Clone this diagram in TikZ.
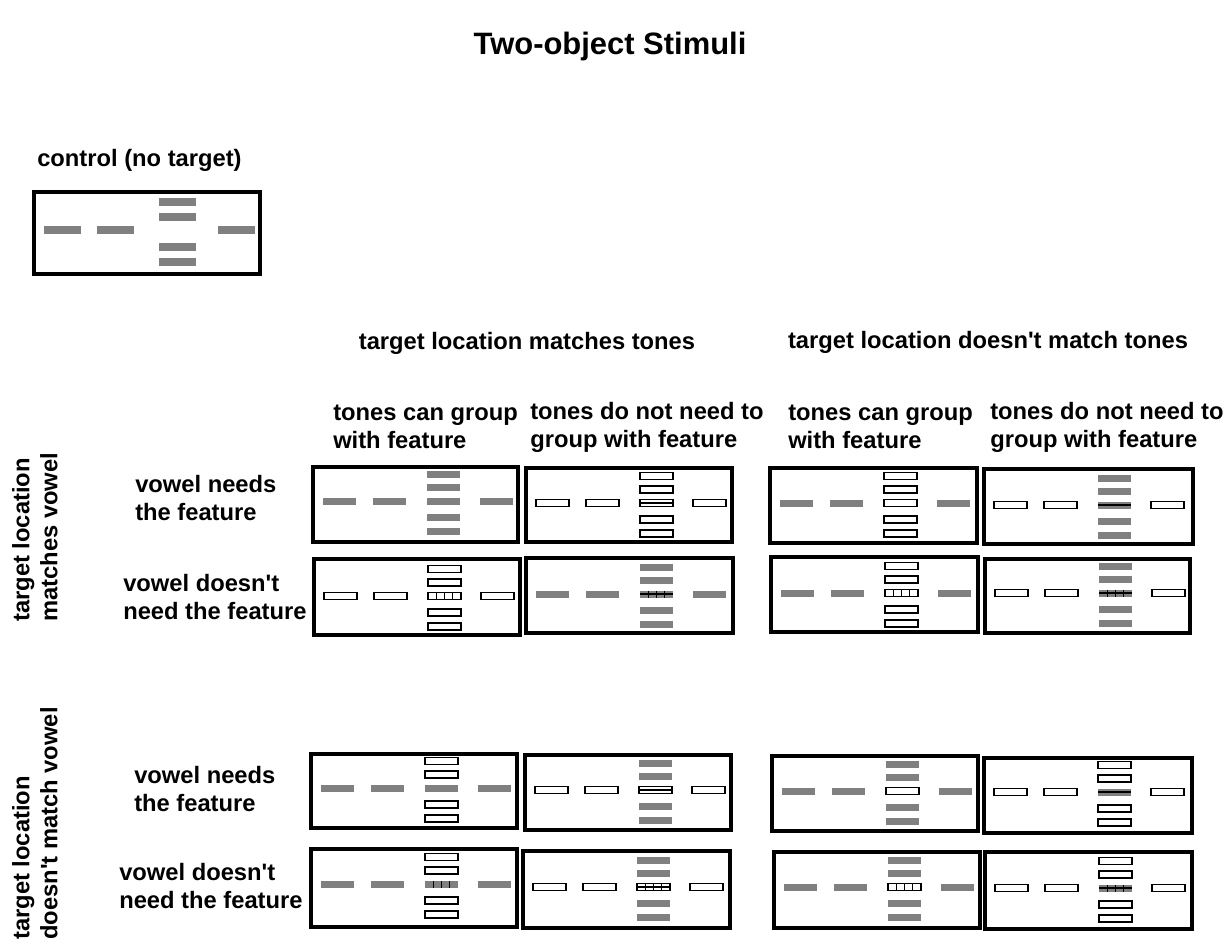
\documentclass[tikz,border=0pt]{standalone}
\usepackage{fontspec}
\setmainfont{Liberation Sans}[Ligatures=TeXOff]
\definecolor{bargray}{RGB}{128,128,128}
\def\bhw{16.5}
\def\bhh{3.5}
\newcommand\bG[2]{\fill[bargray] ({#1-\bhw},{#2-\bhh}) rectangle ({#1+\bhw},{#2+\bhh});}
\newcommand\bW[2]{\draw[barline] ({#1-\bhw},{#2-\bhh}) rectangle ({#1+\bhw},{#2+\bhh});}
\newcommand\bHl[2]{\draw[barline] ({#1-\bhw},{#2}) -- ({#1+\bhw},{#2});}
\newcommand\bVl[2]{\foreach \dd in {-8.25,0,8.25}{\draw[barline] ({#1+\dd},{#2-\bhh}) -- ({#1+\dd},{#2+\bhh});}}
\newcommand\bWh[2]{\bW{#1}{#2}\bHl{#1}{#2}}
\newcommand\bGh[2]{\bG{#1}{#2}\bHl{#1}{#2}}
\newcommand\bWv[2]{\bW{#1}{#2}\bVl{#1}{#2}}
\newcommand\bGv[2]{\bG{#1}{#2}\bVl{#1}{#2}}
\newcommand\bGhv[2]{\bG{#1}{#2}\bHl{#1}{#2}\bVl{#1}{#2}}
\newcommand\bWhv[2]{\bW{#1}{#2}\bHl{#1}{#2}\bVl{#1}{#2}}
% x1, x2, ytop, ybot, cy, flank, stack, center
\newcommand\stimbox[8]{%
  \draw[frame] (#1,#3) rectangle (#2,#4);
  #6{#1+26.5}{#5}
  #6{#1+76.5}{#5}
  #6{#1+183.5}{#5}
  #7{#1+130.5}{#5-27}
  #7{#1+130.5}{#5-13.5}
  #8{#1+130.5}{#5}
  #7{#1+130.5}{#5+16.5}
  #7{#1+130.5}{#5+30.5}
}
\begin{document}
\begin{tikzpicture}[x=0.75pt,y=-0.75pt,
  frame/.style={line width=2.3pt},
  barline/.style={line width=1pt,fill=white},
  lab/.style={font=\bfseries\fontsize{17.8}{21}\selectfont, inner sep=0pt, align=left},
  ttl/.style={font=\bfseries\fontsize{23.2}{28}\selectfont, inner sep=0pt}]
\useasboundingbox[fill=white] (0,0) rectangle (1230,945);
\node[ttl] (title) at (610,47) {Two-object Stimuli};
\node[lab, anchor=west] (ctl) at (37,160) {control (no target)};
\node[lab] (hm) at (527,343) {target location matches tones};
\node[lab] (hn) at (988,342) {target location doesn't match tones};
\node[lab, anchor=west] (c1) at (333,427) {tones can group\\with feature};
\node[lab, anchor=west] (c2) at (530,427) {tones do not need to\\group with feature};
\node[lab, anchor=west] (c3) at (788,427) {tones can group\\with feature};
\node[lab, anchor=west] (c4) at (990,427) {tones do not need to\\group with feature};
\node[lab, anchor=west] (r1) at (135,498) {vowel needs\\the feature};
\node[lab, anchor=west] (r2) at (123,597) {vowel doesn't\\need the feature};
\node[lab, anchor=west] (r3) at (134,789) {vowel needs\\the feature};
\node[lab, anchor=west] (r4) at (119,886) {vowel doesn't\\need the feature};
\node[lab, align=left, rotate=90, anchor=west] (v1) at (35,622) {target location\\matches vowel};
\node[lab, align=left, rotate=90, anchor=west] (v2) at (35,940) {target location\\doesn't match vowel};
% control box
\draw[frame] (34,192) rectangle (260,274);
\begingroup
\def\bhw{18.5}\def\bhh{4}
\bG{62}{230}\bG{115.5}{230}\bG{236.5}{230}
\bG{177.5}{202}\bG{177.5}{217}\bG{177.5}{247}\bG{177.5}{262}
\endgroup
% row 1
\stimbox{313}{518}{467}{542}{501}{\bG}{\bG}{\bG}
\stimbox{526}{732}{468}{542}{503}{\bW}{\bW}{\bWh}
\stimbox{770}{977}{468}{543}{503}{\bG}{\bW}{\bW}
\stimbox{984}{1193}{469}{544}{505}{\bW}{\bG}{\bGh}
% row 2
\stimbox{314}{520}{559}{635}{596}{\bW}{\bW}{\bWv}
\stimbox{526}{733}{558}{633}{594}{\bG}{\bG}{\bGhv}
\stimbox{771}{978}{557}{632}{593}{\bG}{\bW}{\bWv}
\stimbox{985}{1190}{559}{633}{593}{\bW}{\bG}{\bGhv}
% row 3
\stimbox{311}{517}{754}{828}{788}{\bG}{\bW}{\bG}
\stimbox{525}{731}{755}{830}{790}{\bW}{\bG}{\bWh}
\stimbox{772}{978}{756}{831}{791}{\bG}{\bG}{\bW}
\stimbox{984}{1192}{758}{833}{792}{\bW}{\bW}{\bGh}
% row 4
\stimbox{311}{517}{849}{927}{884}{\bG}{\bW}{\bGv}
\stimbox{523}{730}{851}{928}{887}{\bW}{\bG}{\bWhv}
\stimbox{774}{980}{852}{928}{887}{\bG}{\bG}{\bWv}
\stimbox{985}{1192}{852}{929}{888}{\bW}{\bW}{\bGhv}
\end{tikzpicture}
\end{document}
